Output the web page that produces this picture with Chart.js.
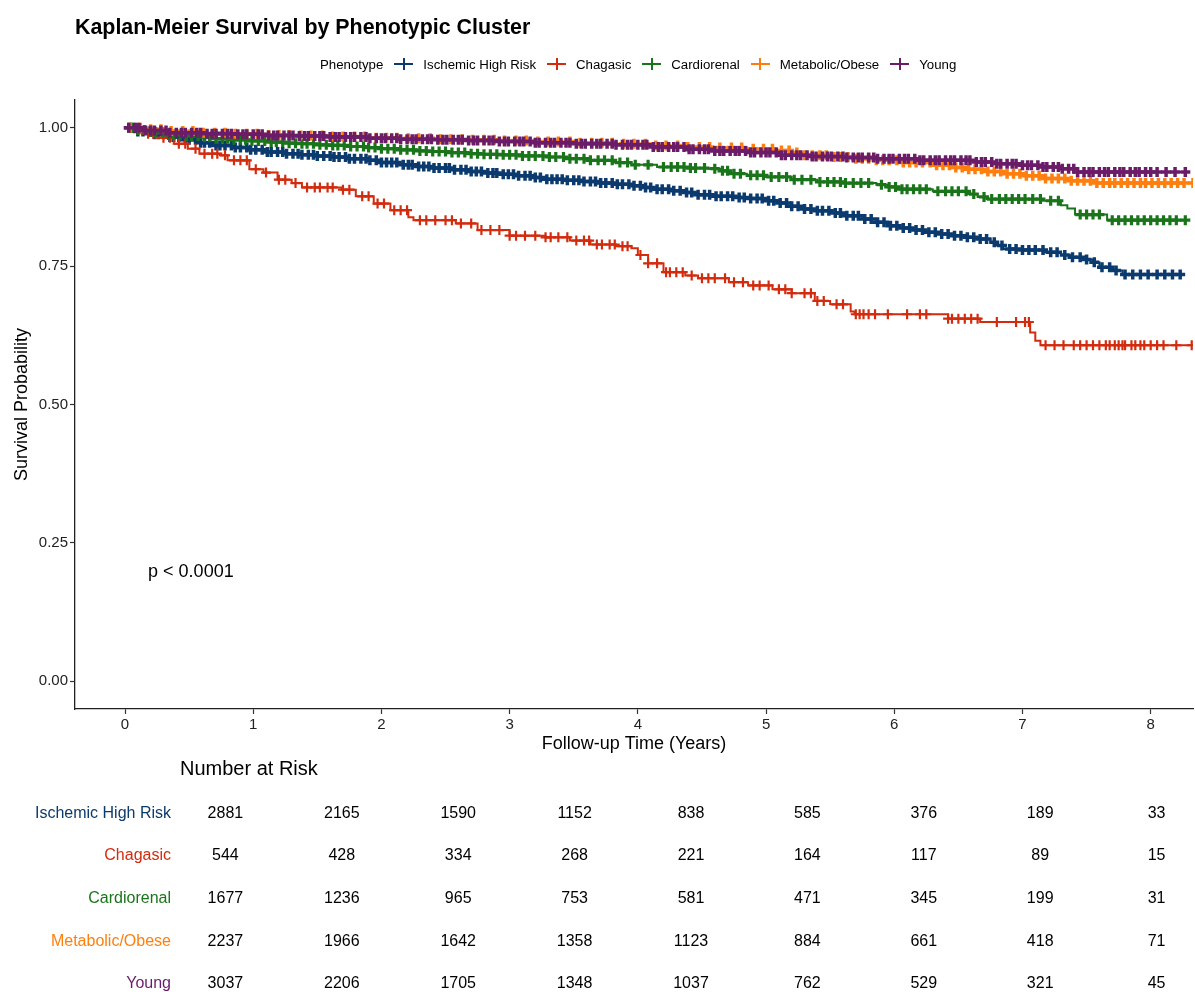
<!DOCTYPE html>
<html>
<head>
<meta charset="utf-8">
<script src="https://cdn.jsdelivr.net/npm/chart.js@4.4.1/dist/chart.umd.min.js"></script>
<style>
  body { margin: 0; background: #fff; font-family: 'Liberation Sans', Arial, sans-serif; }
  #wrap { position: relative; width: 1195px; height: 992px; overflow: hidden; }
  #title { position: absolute; left: 75px; top: 15px; font-size: 21.4px; font-weight: bold; color: #000; white-space: nowrap; }
  #legend { position: absolute; left: 320px; top: 56px; height: 16px; display: flex; align-items: center; font-size: 13.25px; color: #000; white-space: nowrap; }
  #legend .key { position: relative; width: 19px; height: 14px; margin: 0 10px 0 11px; }
  #legend .key::before { content: ''; position: absolute; left: 0; top: 6px; width: 19px; height: 2px; background: var(--c); }
  #legend .key::after { content: ''; position: absolute; left: 8.5px; top: 1px; width: 2px; height: 12px; background: var(--c); }
  #main { position: absolute; left: 0; top: 0; }
  #risk { position: absolute; left: 0; top: 750px; }
</style>
</head>
<body>
<div id="wrap">
  <canvas id="main" width="1195" height="760"></canvas>
  <canvas id="risk" width="1195" height="263"></canvas>
  <div id="title">Kaplan-Meier Survival by Phenotypic Cluster</div>
  <div id="legend"></div>
</div>
<script>
// groups
const phenotypes = ["Ischemic High Risk", "Chagasic", "Cardiorenal", "Metabolic/Obese", "Young"];
const colors = ["#0b3a6e", "#d22b0e", "#1a751a", "#ff7f0e", "#6b1c68"];
const markWidths = [3.5, 2.2, 3.2, 3.5, 3.5];

// KM steps: time of event, survival after it
const ischemicTimes = [0, 0.1, 0.2, 0.33, 0.45, 0.58, 0.7, 0.84, 0.97, 1.1, 1.25, 1.36, 1.5, 1.62, 1.75, 1.89, 2.0, 2.14, 2.27, 2.4, 2.55, 2.67, 2.8, 2.92, 3.05, 3.17, 3.29, 3.42, 3.55, 3.68, 3.81, 3.95, 4.05, 4.15, 4.25, 4.35, 4.46, 4.6, 4.75, 4.85, 4.98, 5.11, 5.2, 5.27, 5.37, 5.5, 5.63, 5.75, 5.86, 5.95, 6.04, 6.15, 6.23, 6.35, 6.43, 6.55, 6.66, 6.75, 6.8, 6.85, 7.0, 7.17, 7.3, 7.37, 7.47, 7.55, 7.6, 7.7, 7.78];
const ischemicSurv = [1, 0.993, 0.988, 0.983, 0.978, 0.973, 0.968, 0.964, 0.96, 0.956, 0.953, 0.951, 0.949, 0.947, 0.944, 0.941, 0.937, 0.933, 0.93, 0.927, 0.924, 0.921, 0.918, 0.916, 0.913, 0.91, 0.907, 0.905, 0.903, 0.9, 0.898, 0.895, 0.892, 0.889, 0.886, 0.883, 0.879, 0.876, 0.874, 0.872, 0.868, 0.864, 0.858, 0.853, 0.85, 0.846, 0.841, 0.835, 0.829, 0.823, 0.819, 0.815, 0.811, 0.808, 0.805, 0.802, 0.799, 0.793, 0.787, 0.781, 0.779, 0.775, 0.77, 0.766, 0.762, 0.757, 0.748, 0.742, 0.735];
const ischemicCensor = [0.03, 0.07, 0.1, 0.14, 0.19, 0.23, 0.26, 0.3, 0.35, 0.38, 0.42, 0.47, 0.5, 0.55, 0.59, 0.62, 0.66, 0.71, 0.74, 0.78, 0.83, 0.86, 0.9, 0.95, 0.98, 1.02, 1.07, 1.11, 1.14, 1.19, 1.23, 1.26, 1.31, 1.35, 1.38, 1.43, 1.47, 1.5, 1.55, 1.6, 1.63, 1.67, 1.72, 1.75, 1.79, 1.84, 1.88, 1.91, 1.96, 2.0, 2.04, 2.08, 2.12, 2.17, 2.21, 2.24, 2.29, 2.33, 2.37, 2.41, 2.45, 2.5, 2.53, 2.57, 2.62, 2.66, 2.7, 2.74, 2.78, 2.83, 2.87, 2.9, 2.95, 2.99, 3.03, 3.07, 3.12, 3.16, 3.2, 3.24, 3.29, 3.33, 3.37, 3.41, 3.45, 3.5, 3.54, 3.58, 3.63, 3.67, 3.71, 3.75, 3.8, 3.84, 3.88, 3.93, 3.97, 4.02, 4.06, 4.1, 4.15, 4.19, 4.24, 4.28, 4.33, 4.38, 4.42, 4.47, 4.52, 4.56, 4.61, 4.65, 4.7, 4.74, 4.79, 4.83, 4.88, 4.93, 4.97, 5.02, 5.06, 5.11, 5.16, 5.2, 5.25, 5.3, 5.35, 5.4, 5.44, 5.49, 5.54, 5.58, 5.63, 5.68, 5.72, 5.77, 5.82, 5.87, 5.92, 5.97, 6.02, 6.07, 6.12, 6.17, 6.22, 6.27, 6.32, 6.37, 6.42, 6.47, 6.52, 6.57, 6.62, 6.67, 6.72, 6.78, 6.84, 6.9, 6.95, 7.0, 7.05, 7.1, 7.16, 7.22, 7.27, 7.33, 7.39, 7.45, 7.5, 7.56, 7.62, 7.68, 7.73, 7.8, 7.86, 7.92, 7.98, 8.05, 8.11, 8.17, 8.23];

const chagasicTimes = [0, 0.13, 0.24, 0.38, 0.49, 0.58, 0.74, 0.8, 0.97, 1.08, 1.19, 1.3, 1.38, 1.69, 1.8, 1.94, 2.07, 2.21, 2.25, 2.58, 2.75, 3.0, 3.28, 3.47, 3.63, 3.83, 3.95, 4.0, 4.08, 4.2, 4.37, 4.47, 4.71, 4.86, 5.05, 5.2, 5.38, 5.5, 5.66, 5.69, 6.42, 6.67, 7.06, 7.1, 7.14];
const chagasicSurv = [1, 0.989, 0.982, 0.971, 0.962, 0.953, 0.95, 0.941, 0.925, 0.919, 0.906, 0.9, 0.892, 0.888, 0.876, 0.863, 0.851, 0.838, 0.833, 0.827, 0.815, 0.805, 0.802, 0.796, 0.789, 0.786, 0.782, 0.77, 0.755, 0.739, 0.733, 0.728, 0.721, 0.715, 0.708, 0.701, 0.687, 0.681, 0.668, 0.663, 0.655, 0.649, 0.63, 0.615, 0.607];
const chagasicCensor = [0.05, 0.1, 0.18, 0.22, 0.3, 0.35, 0.42, 0.47, 0.55, 0.62, 0.68, 0.72, 0.78, 0.85, 0.9, 0.95, 1.02, 1.1, 1.2, 1.25, 1.33, 1.42, 1.48, 1.52, 1.58, 1.62, 1.7, 1.75, 1.85, 1.9, 1.97, 2.02, 2.1, 2.15, 2.2, 2.3, 2.35, 2.42, 2.5, 2.55, 2.62, 2.7, 2.78, 2.85, 2.92, 3.0, 3.05, 3.12, 3.2, 3.28, 3.32, 3.38, 3.45, 3.52, 3.58, 3.62, 3.68, 3.72, 3.78, 3.82, 3.88, 3.92, 4.02, 4.08, 4.15, 4.22, 4.25, 4.3, 4.35, 4.42, 4.5, 4.55, 4.6, 4.68, 4.75, 4.82, 4.9, 4.95, 5.02, 5.1, 5.15, 5.2, 5.3, 5.35, 5.4, 5.45, 5.55, 5.6, 5.7, 5.73, 5.76, 5.8, 5.85, 5.95, 6.1, 6.2, 6.25, 6.42, 6.45, 6.5, 6.55, 6.6, 6.65, 6.8, 6.95, 7.02, 7.05, 7.18, 7.25, 7.32, 7.4, 7.45, 7.5, 7.55, 7.6, 7.65, 7.68, 7.72, 7.75, 7.78, 7.8, 7.85, 7.88, 7.92, 7.95, 8.0, 8.05, 8.1, 8.2, 8.32];

const cardiorenalTimes = [0, 0.1, 0.2, 0.33, 0.45, 0.58, 0.7, 0.84, 0.97, 1.1, 1.25, 1.36, 1.5, 1.62, 1.75, 1.89, 2.0, 2.14, 2.27, 2.4, 2.55, 2.67, 2.8, 2.92, 3.1, 3.29, 3.45, 3.6, 3.81, 3.95, 4.15, 4.4, 4.55, 4.65, 4.72, 4.85, 5.0, 5.2, 5.4, 5.6, 5.86, 5.95, 6.04, 6.3, 6.57, 6.65, 6.72, 7.15, 7.3, 7.35, 7.41, 7.66];
const cardiorenalSurv = [1, 0.996, 0.992, 0.987, 0.985, 0.983, 0.98, 0.978, 0.976, 0.974, 0.972, 0.971, 0.969, 0.968, 0.966, 0.964, 0.962, 0.96, 0.958, 0.957, 0.955, 0.953, 0.952, 0.951, 0.949, 0.947, 0.944, 0.941, 0.937, 0.933, 0.929, 0.927, 0.926, 0.922, 0.917, 0.914, 0.911, 0.906, 0.902, 0.9, 0.897, 0.893, 0.889, 0.885, 0.88, 0.875, 0.871, 0.868, 0.86, 0.854, 0.843, 0.833];
const cardiorenalCensor = [0.05, 0.1, 0.15, 0.2, 0.24, 0.29, 0.34, 0.38, 0.43, 0.48, 0.52, 0.57, 0.62, 0.66, 0.71, 0.76, 0.8, 0.85, 0.9, 0.94, 0.99, 1.04, 1.09, 1.14, 1.18, 1.23, 1.28, 1.33, 1.38, 1.42, 1.47, 1.52, 1.57, 1.62, 1.66, 1.71, 1.76, 1.81, 1.86, 1.9, 1.95, 2.0, 2.05, 2.1, 2.15, 2.2, 2.25, 2.3, 2.35, 2.4, 2.45, 2.5, 2.55, 2.6, 2.65, 2.7, 2.75, 2.8, 2.85, 2.9, 2.95, 3.0, 3.05, 3.1, 3.15, 3.2, 3.26, 3.31, 3.36, 3.42, 3.47, 3.52, 3.58, 3.63, 3.69, 3.74, 3.8, 3.86, 3.92, 3.98, 4.08, 4.2, 4.26, 4.31, 4.36, 4.41, 4.45, 4.52, 4.6, 4.66, 4.7, 4.75, 4.8, 4.88, 4.93, 4.98, 5.04, 5.1, 5.16, 5.22, 5.28, 5.35, 5.42, 5.48, 5.53, 5.58, 5.62, 5.68, 5.74, 5.8, 5.9, 5.96, 6.01, 6.06, 6.1, 6.15, 6.2, 6.25, 6.34, 6.4, 6.45, 6.5, 6.56, 6.62, 6.7, 6.76, 6.82, 6.87, 6.92, 6.97, 7.02, 7.08, 7.14, 7.22, 7.28, 7.45, 7.5, 7.55, 7.6, 7.7, 7.75, 7.8, 7.85, 7.9, 7.95, 8.0, 8.05, 8.1, 8.15, 8.2, 8.27];

const metabolicTimes = [0, 0.15, 0.33, 0.6, 0.84, 1.1, 1.36, 1.6, 1.89, 2.15, 2.4, 2.65, 2.92, 3.2, 3.5, 3.81, 4.1, 4.37, 4.6, 4.85, 5.06, 5.2, 5.29, 5.5, 5.7, 5.86, 6.05, 6.29, 6.45, 6.57, 6.7, 6.86, 7.0, 7.15, 7.35, 7.55];
const metabolicSurv = [1, 0.997, 0.994, 0.991, 0.989, 0.987, 0.986, 0.984, 0.982, 0.981, 0.979, 0.978, 0.977, 0.975, 0.973, 0.971, 0.968, 0.965, 0.964, 0.962, 0.959, 0.955, 0.95, 0.947, 0.944, 0.941, 0.937, 0.932, 0.928, 0.925, 0.921, 0.917, 0.913, 0.908, 0.904, 0.9];
const metabolicCensor = [0.04, 0.12, 0.2, 0.28, 0.36, 0.45, 0.53, 0.61, 0.7, 0.78, 0.86, 0.95, 1.03, 1.12, 1.2, 1.28, 1.37, 1.45, 1.54, 1.62, 1.7, 1.79, 1.87, 1.96, 2.04, 2.12, 2.21, 2.29, 2.38, 2.46, 2.54, 2.63, 2.71, 2.8, 2.88, 2.96, 3.05, 3.13, 3.22, 3.3, 3.38, 3.47, 3.55, 3.64, 3.72, 3.8, 3.89, 3.97, 4.06, 4.14, 4.22, 4.31, 4.39, 4.48, 4.56, 4.64, 4.73, 4.81, 4.9, 4.98, 5.05, 5.12, 5.18, 5.24, 5.3, 5.36, 5.42, 5.47, 5.53, 5.58, 5.64, 5.7, 5.75, 5.8, 5.86, 5.91, 5.96, 6.02, 6.07, 6.12, 6.17, 6.22, 6.28, 6.33, 6.38, 6.43, 6.48, 6.53, 6.58, 6.63, 6.68, 6.73, 6.78, 6.83, 6.88, 6.93, 6.98, 7.03, 7.08, 7.13, 7.18, 7.23, 7.28, 7.33, 7.38, 7.43, 7.48, 7.53, 7.58, 7.63, 7.68, 7.72, 7.77, 7.82, 7.87, 7.92, 7.96, 8.01, 8.06, 8.11, 8.16, 8.21, 8.26, 8.33];

const youngTimes = [0, 0.15, 0.33, 0.6, 0.84, 1.1, 1.36, 1.6, 1.89, 2.15, 2.4, 2.65, 2.92, 3.2, 3.5, 3.81, 4.1, 4.37, 4.6, 4.85, 5.09, 5.35, 5.63, 5.86, 6.2, 6.63, 6.8, 7.0, 7.15, 7.29, 7.43];
const youngSurv = [1, 0.995, 0.991, 0.989, 0.988, 0.986, 0.985, 0.983, 0.981, 0.979, 0.978, 0.977, 0.975, 0.973, 0.971, 0.969, 0.965, 0.961, 0.958, 0.955, 0.95, 0.948, 0.946, 0.944, 0.941, 0.938, 0.935, 0.932, 0.929, 0.926, 0.92];
const youngCensor = [0.03, 0.08, 0.11, 0.16, 0.2, 0.23, 0.28, 0.32, 0.35, 0.4, 0.44, 0.47, 0.52, 0.56, 0.59, 0.64, 0.68, 0.71, 0.76, 0.8, 0.83, 0.88, 0.92, 0.95, 1.0, 1.04, 1.07, 1.12, 1.16, 1.19, 1.24, 1.28, 1.31, 1.36, 1.4, 1.43, 1.48, 1.52, 1.55, 1.6, 1.64, 1.67, 1.72, 1.76, 1.79, 1.84, 1.88, 1.91, 1.96, 2.0, 2.03, 2.08, 2.12, 2.15, 2.2, 2.24, 2.27, 2.32, 2.36, 2.39, 2.44, 2.48, 2.51, 2.56, 2.6, 2.63, 2.68, 2.72, 2.75, 2.8, 2.84, 2.87, 2.92, 2.96, 2.99, 3.04, 3.08, 3.11, 3.16, 3.2, 3.23, 3.28, 3.32, 3.35, 3.4, 3.44, 3.47, 3.52, 3.56, 3.59, 3.64, 3.68, 3.71, 3.76, 3.8, 3.83, 3.88, 3.92, 3.95, 4.0, 4.04, 4.07, 4.12, 4.16, 4.19, 4.24, 4.28, 4.31, 4.36, 4.4, 4.43, 4.48, 4.52, 4.55, 4.6, 4.64, 4.67, 4.72, 4.76, 4.79, 4.84, 4.88, 4.91, 4.96, 5.0, 5.03, 5.08, 5.12, 5.15, 5.2, 5.24, 5.27, 5.32, 5.36, 5.39, 5.44, 5.48, 5.51, 5.56, 5.6, 5.63, 5.68, 5.72, 5.75, 5.8, 5.84, 5.87, 5.92, 5.96, 5.99, 6.04, 6.08, 6.11, 6.16, 6.2, 6.23, 6.28, 6.32, 6.35, 6.4, 6.44, 6.47, 6.52, 6.56, 6.59, 6.64, 6.68, 6.71, 6.76, 6.8, 6.83, 6.88, 6.92, 6.95, 7.0, 7.04, 7.07, 7.12, 7.16, 7.19, 7.24, 7.28, 7.31, 7.36, 7.4, 7.43, 7.48, 7.52, 7.55, 7.6, 7.64, 7.67, 7.72, 7.76, 7.79, 7.84, 7.88, 7.91, 7.96, 8.0, 8.05, 8.12, 8.19, 8.27];

// number at risk
const riskTimes = [0, 1, 2, 3, 4, 5, 6, 7, 8];
const ischemicRisk = [2881, 2165, 1590, 1152, 838, 585, 376, 189, 33];
const chagasicRisk = [544, 428, 334, 268, 221, 164, 117, 89, 15];
const cardiorenalRisk = [1677, 1236, 965, 753, 581, 471, 345, 199, 31];
const metabolicRisk = [2237, 1966, 1642, 1358, 1123, 884, 661, 418, 71];
const youngRisk = [3037, 2206, 1705, 1348, 1037, 762, 529, 321, 45];

const xTicks = [0, 1, 2, 3, 4, 5, 6, 7, 8];
const yTicks = [0, 0.25, 0.5, 0.75, 1];
const pValueText = "p < 0.0001";

Chart.defaults.font.family = "'Liberation Sans', Arial, sans-serif";
Chart.defaults.color = "#222";

const series = [
  [ischemicTimes, ischemicSurv, ischemicCensor],
  [chagasicTimes, chagasicSurv, chagasicCensor],
  [cardiorenalTimes, cardiorenalSurv, cardiorenalCensor],
  [metabolicTimes, metabolicSurv, metabolicCensor],
  [youngTimes, youngSurv, youngCensor]
];
const riskRows = [ischemicRisk, chagasicRisk, cardiorenalRisk, metabolicRisk, youngRisk];

function survAt(times, surv, t) {
  let s = surv[0];
  for (let i = 0; i < times.length; i++) { if (times[i] <= t) s = surv[i]; }
  return s;
}

// legend
const legendEl = document.getElementById("legend");
legendEl.innerHTML = "<span>Phenotype</span>" + phenotypes.map((p, i) =>
  `<span class="key" style="--c:${colors[i]}"></span><span>${p}</span>`).join("");

const datasets = [];
series.forEach(([times, surv, censor], i) => {
  const end = censor[censor.length - 1];
  const pts = times.map((t, j) => ({ x: t, y: surv[j] }));
  pts.push({ x: end, y: surv[surv.length - 1] });
  const ord = 5 - i;
  datasets.push({
    label: phenotypes[i], data: pts, stepped: true, borderColor: colors[i],
    borderWidth: 2, pointRadius: 0, fill: false, order: ord
  });
  datasets.push({
    label: phenotypes[i] + " censor", data: censor.map(t => ({ x: t, y: survAt(times, surv, t) })),
    showLine: false, pointStyle: "cross", pointRadius: 5, pointBorderWidth: markWidths[i],
    borderColor: colors[i], pointBorderColor: colors[i], order: ord
  });
});

const pValuePlugin = {
  id: "pvalue",
  afterDraw(chart) {
    const { ctx, scales: { x, y } } = chart;
    ctx.save();
    ctx.font = "18px 'Liberation Sans', Arial, sans-serif";
    ctx.fillStyle = "#000";
    ctx.textAlign = "left";
    ctx.textBaseline = "middle";
    ctx.fillText(pValueText, x.getPixelForValue(0.18), y.getPixelForValue(0.198));
    ctx.restore();
  }
};

new Chart(document.getElementById("main"), {
  type: "line",
  data: { datasets },
  options: {
    responsive: false,
    animation: false,
    layout: { autoPadding: false, padding: { top: 100, right: 2, left: 0, bottom: 0 } },
    plugins: { legend: { display: false }, tooltip: { enabled: false } },
    scales: {
      x: {
        type: "linear", min: -0.39, max: 8.33,
        afterBuildTicks: s => { s.ticks = xTicks.map(v => ({ value: v })); },
        afterFit: s => { s.height = 51; },
        ticks: { font: { size: 15 }, color: "#222", padding: 2, maxRotation: 0, autoSkip: false },
        grid: { drawOnChartArea: false, tickLength: 5, color: "#333", tickWidth: 1.2 },
        border: { display: true, color: "#222", width: 1.3 },
        title: { display: true, text: "Follow-up Time (Years)", font: { size: 18 }, color: "#000", padding: { top: 0, bottom: 5 } }
      },
      y: {
        type: "linear", min: -0.05, max: 1.05,
        afterBuildTicks: s => { s.ticks = yTicks.map(v => ({ value: v })); },
        afterFit: s => { s.width = 75; },
        ticks: { font: { size: 15 }, color: "#222", padding: 2, callback: v => v.toFixed(2) },
        grid: { drawOnChartArea: false, tickLength: 5, color: "#333", tickWidth: 1.2 },
        border: { display: true, color: "#222", width: 1.3 },
        title: { display: true, text: "Survival Probability", font: { size: 18 }, color: "#000", padding: { top: 11, bottom: 0 } }
      }
    }
  },
  plugins: [pValuePlugin]
});

// risk table
const riskLabelPlugin = {
  id: "risklabels",
  afterDatasetsDraw(chart) {
    const { ctx } = chart;
    ctx.save();
    ctx.font = "20px 'Liberation Sans', Arial, sans-serif";
    ctx.fillStyle = "#000";
    ctx.textAlign = "left";
    ctx.textBaseline = "middle";
    ctx.fillText("Number at Risk", chart.chartArea.left, 19);
    ctx.font = "16px 'Liberation Sans', Arial, sans-serif";
    ctx.textAlign = "center";
    chart.data.datasets.forEach((ds, i) => {
      chart.getDatasetMeta(i).data.forEach((el, j) => {
        ctx.fillText(String(ds.data[j].n), el.x, el.y);
      });
    });
    ctx.restore();
  }
};

new Chart(document.getElementById("risk"), {
  type: "scatter",
  data: {
    datasets: riskRows.map((row, i) => ({
      label: phenotypes[i],
      data: riskTimes.map((t, j) => ({ x: t, y: i + 1, n: row[j] })),
      pointRadius: 0
    }))
  },
  options: {
    responsive: false,
    animation: false,
    layout: { padding: { top: 42, right: 0, left: 0, bottom: 0 } },
    plugins: { legend: { display: false }, tooltip: { enabled: false } },
    scales: {
      x: { type: "linear", min: -0.39, max: 8.33, display: false },
      y: {
        type: "linear", min: 0.5, max: 5.25, reverse: true,
        afterBuildTicks: s => { s.ticks = phenotypes.map((p, i) => ({ value: i + 1 })); },
        afterFit: s => { s.width = 180; },
        ticks: {
          font: { size: 16 }, padding: 9,
          color: c => colors[c.index],
          callback: v => phenotypes[v - 1]
        },
        grid: { display: false, drawTicks: false },
        border: { display: false }
      }
    }
  },
  plugins: [riskLabelPlugin]
});
</script>
</body>
</html>
